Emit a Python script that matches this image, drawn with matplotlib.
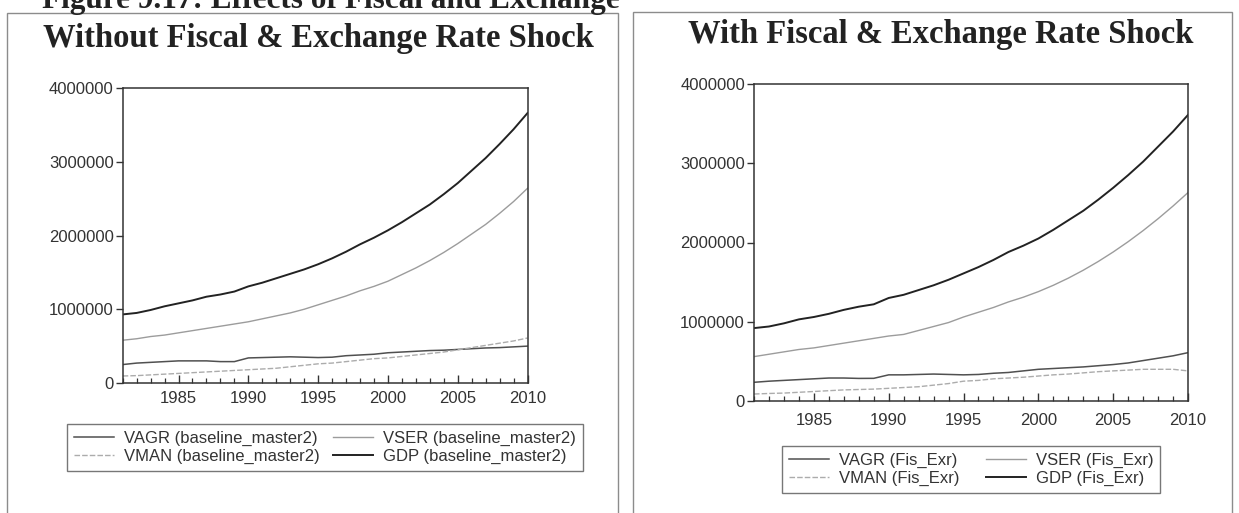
import matplotlib.pyplot as plt
import numpy as np
from matplotlib.patches import Rectangle
from matplotlib.ticker import MultipleLocator, FixedLocator

W, H = 1239, 513

years = np.arange(1981, 2011)

# values in millions
base_gdp = [0.93, 0.95, 0.99, 1.04, 1.08, 1.12, 1.17, 1.20, 1.24, 1.31,
            1.36, 1.42, 1.48, 1.54, 1.61, 1.69, 1.78, 1.88, 1.97, 2.07,
            2.18, 2.30, 2.42, 2.56, 2.71, 2.88, 3.05, 3.24, 3.44, 3.66]
base_vser = [0.58, 0.60, 0.63, 0.65, 0.68, 0.71, 0.74, 0.77, 0.80, 0.83,
             0.87, 0.91, 0.95, 1.00, 1.06, 1.12, 1.18, 1.25, 1.31, 1.38,
             1.47, 1.56, 1.66, 1.77, 1.89, 2.02, 2.15, 2.30, 2.46, 2.64]
base_vagr = [0.25, 0.27, 0.28, 0.29, 0.30, 0.30, 0.30, 0.29, 0.29, 0.34,
             0.345, 0.35, 0.355, 0.35, 0.345, 0.35, 0.37, 0.38, 0.39, 0.41,
             0.42, 0.43, 0.44, 0.445, 0.455, 0.465, 0.475, 0.48, 0.49, 0.50]
base_vman = [0.095, 0.10, 0.11, 0.12, 0.13, 0.14, 0.15, 0.16, 0.17, 0.18,
             0.19, 0.20, 0.22, 0.24, 0.26, 0.27, 0.29, 0.31, 0.33, 0.34,
             0.36, 0.38, 0.40, 0.42, 0.45, 0.48, 0.51, 0.54, 0.57, 0.61]

fis_gdp = [0.92, 0.94, 0.98, 1.03, 1.06, 1.10, 1.15, 1.19, 1.22, 1.30,
           1.34, 1.40, 1.46, 1.53, 1.61, 1.69, 1.78, 1.88, 1.96, 2.05,
           2.16, 2.28, 2.40, 2.54, 2.69, 2.85, 3.02, 3.21, 3.40, 3.61]
fis_vser = [0.56, 0.59, 0.62, 0.65, 0.67, 0.70, 0.73, 0.76, 0.79, 0.82,
            0.84, 0.89, 0.94, 0.99, 1.06, 1.12, 1.18, 1.25, 1.31, 1.38,
            1.46, 1.55, 1.65, 1.76, 1.88, 2.01, 2.15, 2.30, 2.46, 2.63]
fis_vagr = [0.236, 0.25, 0.26, 0.27, 0.28, 0.29, 0.29, 0.285, 0.286, 0.33,
            0.33, 0.335, 0.34, 0.335, 0.33, 0.335, 0.35, 0.36, 0.38, 0.40,
            0.41, 0.42, 0.43, 0.445, 0.46, 0.48, 0.51, 0.54, 0.57, 0.61]
fis_vman = [0.088, 0.095, 0.10, 0.11, 0.12, 0.13, 0.14, 0.145, 0.15, 0.16,
            0.17, 0.18, 0.20, 0.22, 0.25, 0.26, 0.28, 0.29, 0.30, 0.315,
            0.33, 0.34, 0.355, 0.37, 0.38, 0.39, 0.40, 0.40, 0.40, 0.38]

y_ticks = [0, 1000000, 2000000, 3000000, 4000000]
x_ticks = [1985, 1990, 1995, 2000, 2005, 2010]

panels = [
    dict(title='Without Fiscal & Exchange Rate Shock', tag='baseline_master2',
         series=(base_vagr, base_vser, base_vman, base_gdp),
         ax_px=(122.7, 527.5, 88, 383), title_xy=(318, 46.5),
         leg_top=424, xpad=6, colsp=0.8, box=(7, 618, 13)),
    dict(title='With Fiscal & Exchange Rate Shock', tag='Fis_Exr',
         series=(fis_vagr, fis_vser, fis_vman, fis_gdp),
         ax_px=(754, 1188, 84, 401), title_xy=(941, 43.3),
         leg_top=446, xpad=8.5, colsp=1.6, box=(633, 1232, 12)),
]

names = ['VAGR', 'VSER', 'VMAN', 'GDP']
colors = ['#505050', '#9c9c9c', '#acacac', '#222222']
widths = [1.1, 1.0, 1.0, 1.4]
styles = ['-', '-', (0, (4, 1.5)), '-']

plt.rcParams['font.family'] = ['Liberation Sans', 'DejaVu Sans']

fig = plt.figure(figsize=(W / 100, H / 100), dpi=100)


def fx(px):
    return px / W


def fy(py):
    return 1 - py / H


# caption at the very top (cut by the page edge in the scan)
fig.text(fx(42), fy(8), 'Figure 9.17: Effects of Fiscal and Exchange',
         family='Liberation Serif', weight='bold', fontsize=22.5,
         color='#222222', va='baseline', ha='left')

for p in panels:
    x0, x1, top = p['box']
    fig.add_artist(Rectangle((fx(x0), fy(H + 10)), fx(x1 - x0), (H + 10 - top) / H,
                             transform=fig.transFigure, fill=False,
                             edgecolor='#8c8c8c', lw=1.0))
    fig.text(fx(p['title_xy'][0]), fy(p['title_xy'][1]), p['title'],
             family='Liberation Serif', weight='bold', fontsize=23.5,
             color='#222222', ha='center', va='baseline')

    l, r, t, b = p['ax_px']
    ax = fig.add_axes([fx(l), fy(b), fx(r - l), (b - t) / H])
    handles = []
    for name, vals, c, lw, ls in zip(names, p['series'], colors, widths, styles):
        h, = ax.plot(years, np.array(vals) * 1e6, color=c, lw=lw, ls=ls,
                     label=f'{name} ({p["tag"]})')
        handles.append(h)

    ax.set_xlim(1981, 2010)
    ax.set_ylim(0, 4000000)
    ax.yaxis.set_major_locator(FixedLocator(y_ticks))
    ax.yaxis.set_major_formatter(plt.FuncFormatter(lambda v, _: f'{v:.0f}'))
    ax.xaxis.set_major_locator(FixedLocator(x_ticks))
    ax.xaxis.set_minor_locator(MultipleLocator(1))
    for s in ax.spines.values():
        s.set_color('#333333')
        s.set_linewidth(1.1)
    ax.tick_params(axis='y', direction='out', length=5, width=1, colors='#333333',
                   labelsize=12, pad=1.5, labelcolor='#333333')
    ax.tick_params(axis='x', which='major', direction='in', length=6, width=1,
                   colors='#333333', labelsize=12, pad=p['xpad'],
                   labelcolor='#333333')
    ax.tick_params(axis='x', which='minor', direction='in', length=3.5, width=0.9,
                   colors='#333333')

    order = [handles[0], handles[2], handles[1], handles[3]]
    leg = fig.legend(handles=order, labels=[h.get_label() for h in order],
                     ncol=2, loc='upper center',
                     bbox_to_anchor=(fx((l + r) / 2), fy(p['leg_top'])),
                     bbox_transform=fig.transFigure,
                     fontsize=12, frameon=True, fancybox=False, borderpad=0.4,
                     labelspacing=0.2, handlelength=2.4, handletextpad=0.6,
                     columnspacing=p['colsp'], borderaxespad=0)
    leg.get_frame().set_edgecolor('#555555')
    leg.get_frame().set_linewidth(1.0)
    for txt in leg.get_texts():
        txt.set_color('#333333')

fig.savefig('out.png', dpi=100, facecolor='white')
